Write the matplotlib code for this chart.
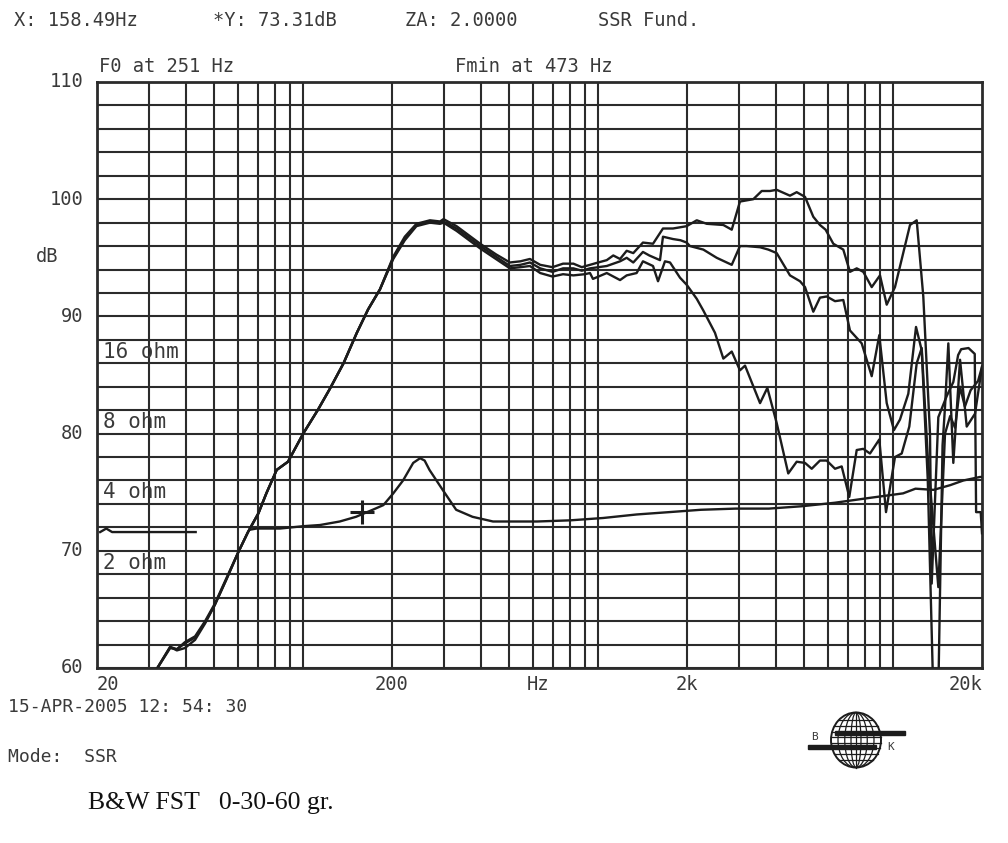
import numpy as np
import matplotlib
matplotlib.use('Agg')
import matplotlib.pyplot as plt
from matplotlib.patches import Ellipse, Rectangle

# ---------------- data ----------------
freq_0 = [31.5, 35.4, 37.3, 39.7, 43.0, 46.5, 50.2, 55.0, 60.3, 65.0, 70.5, 75.0, 81.3, 88.8,
          100, 112, 123, 137, 152, 166, 182, 202, 221, 242, 269, 291, 299, 331, 398, 450, 502,
          545, 587, 636, 700, 760, 824, 880, 938, 1000, 1069, 1125, 1186, 1249, 1315, 1418,
          1534, 1658, 1793, 1995, 2158, 2334, 2656, 2836, 3024, 3355, 3584, 3824, 4028, 4468,
          4708, 5024, 5360, 5646, 5900, 6266, 6774, 7136, 7522, 7918, 8456, 9020, 9506, 10140,
          11402, 12014, 12648, 13328, 13506, 14222, 15184, 15988, 16600, 17000, 18000, 18900,
          19100, 19800, 20000]
spl_0 = [59.7, 61.8, 61.5, 61.7, 62.4, 63.8, 65.4, 67.6, 69.9, 71.6, 73.2, 74.9, 76.9, 77.6,
         80.0, 82.0, 83.8, 86.0, 88.6, 90.6, 92.3, 95.1, 96.8, 97.9, 98.2, 98.1, 98.3, 97.7,
         96.2, 95.3, 94.6, 94.7, 94.9, 94.4, 94.2, 94.5, 94.5, 94.2, 94.4, 94.6, 94.8, 95.2,
         94.9, 95.6, 95.4, 96.3, 96.2, 97.5, 97.5, 97.7, 98.2, 97.9, 97.8, 97.4, 99.8, 100.0,
         100.7, 100.7, 100.8, 100.3, 100.6, 100.2, 98.5, 97.8, 97.4, 96.2, 95.7, 93.8, 94.1,
         93.8, 92.5, 93.5, 91.0, 92.5, 97.8, 98.2, 91.7, 80.0, 67.2, 81.4, 83.2, 84.4, 86.7,
         87.2, 87.3, 86.8, 73.3, 73.3, 71.5]

freq_30 = [31.5, 35.4, 37.3, 39.7, 43.0, 46.5, 50.2, 55.0, 60.3, 65.0, 70.5, 75.0, 81.3, 88.8,
           100, 112, 123, 137, 152, 166, 182, 202, 221, 242, 269, 291, 299, 331, 398, 450, 502,
           545, 587, 636, 700, 760, 824, 880, 938, 1069, 1186, 1249, 1315, 1418, 1490, 1620,
           1658, 1793, 1900, 1995, 2047, 2272, 2522, 2836, 3024, 3188, 3537, 3774, 4028, 4468,
           4832, 5024, 5360, 5646, 5950, 6350, 6774, 7136, 7820, 8456, 8972, 9506, 10060, 10544,
           11252, 11950, 12494, 13100, 13700, 14200, 14700, 14986, 15378, 15988, 16850, 17752,
           18940, 20000]
spl_30 = [59.7, 61.8, 61.6, 62.1, 62.6, 63.9, 65.4, 67.6, 69.9, 71.6, 73.2, 74.9, 76.9, 77.6,
          80.0, 82.0, 83.8, 86.0, 88.6, 90.6, 92.3, 95.0, 96.6, 97.8, 98.1, 98.0, 98.1, 97.5,
          96.0, 95.1, 94.3, 94.4, 94.6, 94.1, 93.8, 94.1, 94.1, 93.9, 94.1, 94.3, 94.7, 95.0,
          94.6, 95.5, 95.2, 94.8, 96.8, 96.6, 96.5, 96.3, 96.0, 95.7, 95.0, 94.4, 96.0, 96.0,
          95.9, 95.7, 95.4, 93.5, 93.0, 92.5, 90.4, 91.6, 91.7, 91.3, 91.4, 88.8, 87.7, 84.9,
          88.4, 82.6, 80.3, 81.2, 83.4, 89.1, 87.1, 76.0, 57.0, 57.0, 79.0, 82.3, 87.7, 77.5,
          86.3, 80.6, 81.7, 85.7]

freq_60 = [31.5, 35.4, 37.3, 39.7, 43.0, 46.5, 50.2, 55.0, 60.3, 65.0, 70.5, 75.0, 81.3, 88.8,
           100, 112, 123, 137, 152, 166, 182, 202, 221, 242, 269, 291, 299, 331, 398, 450, 502,
           545, 587, 636, 700, 760, 824, 900, 938, 960, 1069, 1186, 1249, 1350, 1418, 1534, 1595,
           1684, 1752, 1894, 1995, 2158, 2272, 2488, 2656, 2836, 3024, 3146, 3537, 3744, 4028,
           4408, 4708, 5024, 5294, 5646, 5950, 6350, 6690, 7098, 7522, 7918, 8344, 8972, 9454,
           10140, 10686, 11340, 12014, 12494, 13100, 14222, 14986, 15600, 16200, 16850, 17500,
           18300, 19400, 20000]
spl_60 = [59.7, 61.7, 61.6, 62.2, 62.7, 64.0, 65.5, 67.7, 69.9, 71.6, 73.2, 74.9, 76.9, 77.6,
          80.0, 82.0, 83.8, 86.0, 88.6, 90.6, 92.3, 94.9, 96.5, 97.7, 98.0, 97.9, 98.0, 97.3,
          95.8, 94.9, 94.1, 94.2, 94.3, 93.7, 93.4, 93.6, 93.5, 93.6, 93.7, 93.2, 93.7, 93.1,
          93.5, 93.7, 94.7, 94.3, 93.0, 94.7, 94.6, 93.3, 92.7, 91.5, 90.5, 88.6, 86.4, 87.0,
          85.4, 85.8, 82.6, 83.9, 80.9, 76.6, 77.6, 77.5, 77.0, 77.7, 77.7, 77.0, 77.2, 74.6,
          78.6, 78.7, 78.3, 79.5, 73.3, 78.0, 78.3, 80.6, 86.0, 87.3, 78.0, 66.9, 80.0, 81.5,
          80.5, 84.0, 82.3, 83.7, 84.5, 85.7]

imp_freq = [20.5, 21.5, 22.5, 24, 27, 32, 38, 43.2, 55, 66, 69.5, 83.5, 100, 114, 133, 151, 172,
            187, 202, 218, 236, 249, 258, 268, 297, 330, 375, 440, 520, 620, 805, 1040, 1350,
            1740, 2230, 2920, 3790, 4890, 6340, 8240, 10800, 11900, 13700, 15600, 17300, 19700,
            20000]
imp_db = [71.6, 71.9, 71.6, 71.6, 71.6, 71.6, 71.6, 71.6, np.nan, 71.8, 71.9, 71.9, 72.1, 72.2,
          72.5, 72.9, 73.5, 73.9, 74.9, 76.0, 77.5, 77.9, 77.7, 76.9, 75.2, 73.5, 72.9, 72.5,
          72.5, 72.5, 72.6, 72.8, 73.1, 73.3, 73.5, 73.6, 73.6, 73.8, 74.1, 74.5, 74.9, 75.3,
          75.2, 75.6, 76.0, 76.3, 76.3]

cursor_f, cursor_db = 158.49, 73.31

grid_freqs = [20, 30, 40, 50, 60, 70, 80, 90, 100, 200, 300, 400, 500, 600, 700, 800, 900,
              1000, 2000, 3000, 4000, 5000, 6000, 7000, 8000, 9000, 10000]
grid_db = list(range(60, 111, 2))

ytick_vals = [110, 100, 90, 80, 70, 60]
xtick_labels = [(20, "20", 'left'), (200, "200", 'center'), (625, "Hz", 'center'),
                (2000, "2k", 'center'), (20000, "20k", 'right')]
ohm_labels = [(87, "16 ohm"), (81, "8 ohm"), (75, "4 ohm"), (69, "2 ohm")]

# ---------------- figure ----------------
W, H = 1008, 843
fig = plt.figure(figsize=(W / 100, H / 100), dpi=100)
fig.patch.set_facecolor('white')

L, R, T, B = 97, 982, 82, 668
ax = fig.add_axes([L / W, 1 - B / H, (R - L) / W, (B - T) / H])
ax.set_xscale('log')
ax.set_xlim(20, 20000)
ax.set_ylim(60, 110)
ax.xaxis.set_major_locator(matplotlib.ticker.NullLocator())
ax.xaxis.set_minor_locator(matplotlib.ticker.NullLocator())
ax.yaxis.set_major_locator(matplotlib.ticker.NullLocator())
ax.yaxis.set_minor_locator(matplotlib.ticker.NullLocator())

gc = '#2b2b2b'
for f in grid_freqs:
    ax.axvline(f, color=gc, lw=1.5, zorder=1)
for v in grid_db:
    ax.axhline(v, color=gc, lw=1.5, zorder=1)
for s in ax.spines.values():
    s.set_color(gc)
    s.set_linewidth(2.0)

cc = '#1c1c1c'
ax.plot(freq_60, spl_60, color=cc, lw=1.7, zorder=3)
ax.plot(freq_30, spl_30, color=cc, lw=1.7, zorder=3)
ax.plot(freq_0, spl_0, color=cc, lw=1.7, zorder=3)
ax.plot(imp_freq, imp_db, color=cc, lw=1.7, zorder=3)
ax.plot([cursor_f], [cursor_db], marker='+', ms=17, mew=2.2, color=cc, zorder=4)

mono = dict(family='DejaVu Sans Mono', color='#3a3a3a')

# tick labels
ytr = ax.get_yaxis_transform()
for v in ytick_vals:
    ax.text(-0.015, v, str(v), transform=ytr, ha='right', va='center', fontsize=13.5, **mono)
ax.text(-0.069, 95.1, "dB", transform=ytr, ha='left', va='center', fontsize=13.5, **mono)
xtr = ax.get_xaxis_transform()
for f, lab, ha in xtick_labels:
    ax.text(f, -0.012, lab, transform=xtr, ha=ha, va='top', fontsize=13.5, **mono)

for v, lab in ohm_labels:
    ax.text(20.9, v, lab, ha='left', va='center', fontsize=15, zorder=5, **mono)

def ftext(x, y, s, size=13.5, **kw):
    fig.text(x / W, 1 - y / H, s, ha='left', va='center', fontsize=size, **{**mono, **kw})

ftext(14, 20, "X: 158.49Hz")
ftext(213, 20, "*Y: 73.31dB")
ftext(405, 20, "ZA: 2.0000")
ftext(598, 20, "SSR Fund.")
ftext(99, 66, "F0 at 251 Hz")
ftext(455, 66, "Fmin at 473 Hz")
ftext(8, 707, "15-APR-2005 12: 54: 30", size=13)
ftext(8, 757, "Mode:  SSR", size=13)
fig.text(88 / W, 1 - 803 / H, "B&W FST   0-30-60 gr.", ha='left', va='center',
         fontsize=18.5, family='Liberation Serif', color='#111111')

# ---------------- B&K logo ----------------
lg = fig.add_axes([798 / W, 1 - 772 / H, 116 / W, 62 / H])
lg.set_xlim(798, 914)
lg.set_ylim(772, 710)
lg.axis('off')
cx, cy, rw, rh = 856, 740, 50, 55
lg.add_patch(Ellipse((cx, cy), rw, rh, fill=False, lw=1.4, color=cc))
for k in [0.72, 0.45, 0.2]:
    lg.add_patch(Ellipse((cx, cy), rw * k, rh, fill=False, lw=0.9, color=cc))
lg.plot([cx, cx], [cy - rh / 2, cy + rh / 2], color=cc, lw=0.9)
for dy in [-20, -14, -8, -3, 3, 8, 14, 20]:
    half = rw / 2 * np.sqrt(max(0.0, 1 - (2 * dy / rh) ** 2))
    lg.plot([cx - half, cx + half], [cy + dy, cy + dy], color=cc, lw=0.9)
lg.add_patch(Rectangle((835, 731), 70, 4, color=cc))
lg.add_patch(Rectangle((808, 745), 68, 4, color=cc))
lg.text(815, 737, "B", ha='center', va='center', fontsize=8, **mono)
lg.text(891, 747, "K", ha='center', va='center', fontsize=8, **mono)

fig.savefig('out.png', dpi=100, facecolor='white')
